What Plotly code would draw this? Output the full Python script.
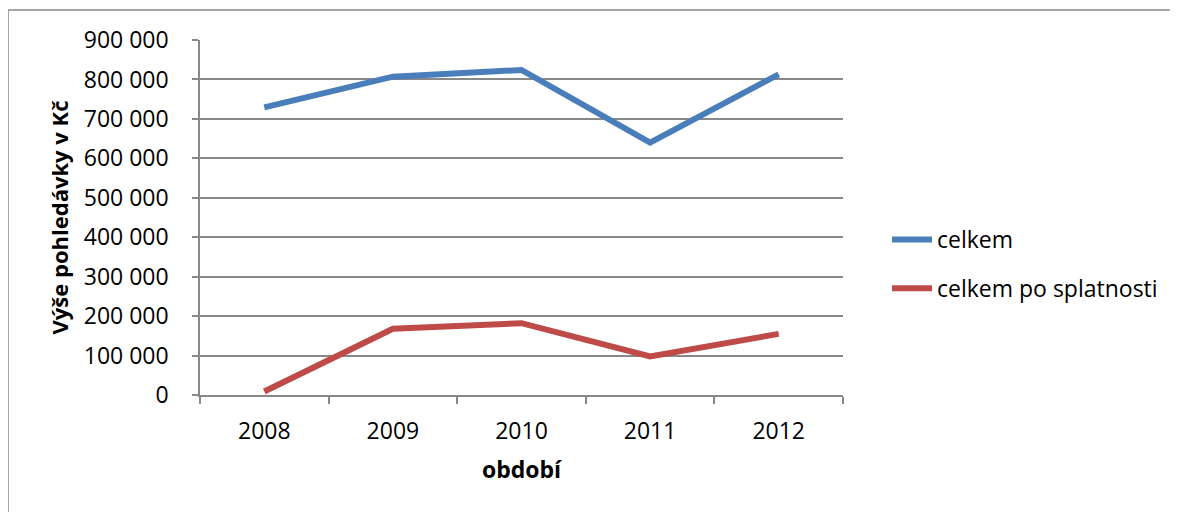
import plotly.graph_objects as go

years = ["2008", "2009", "2010", "2011", "2012"]
celkem = [729000, 807000, 824000, 640000, 813000]
po_splatnosti = [9000, 168000, 182000, 98000, 155000]
y_ticks = [0, 100000, 200000, 300000, 400000, 500000, 600000, 700000, 800000, 900000]

FONT = "Open Sans"
GRID = "#888888"
OFF = 8  # page body margin

fig = go.Figure()
fig.add_trace(go.Scatter(x=years, y=celkem, name="celkem", mode="lines",
                         line=dict(color="#4A7EBB", width=6), legendgroup="a"))
fig.add_trace(go.Scatter(x=years, y=po_splatnosti, name="celkem po splatnosti", mode="lines",
                         line=dict(color="#BE4B48", width=6), legendgroup="b"))

W, H = 1178 - OFF, 512 - OFF
L, T = 200 - OFF, 40 - OFF
R = W - (843 - OFF)
B = H - (395 - OFF)
pw, ph = W - L - R, H - T - B

def px_x(x):
    return (x - 200) / pw

def px_y(y):
    return (395 - y) / ph

fig.update_layout(
    width=W, height=H,
    margin=dict(l=L, r=R, t=T, b=B),
    paper_bgcolor="white", plot_bgcolor="white",
    separators=", ",
    font=dict(family=FONT, size=23, color="black"),
    showlegend=True,
    legend=dict(x=px_x(887), y=px_y(264), xanchor="left", yanchor="middle",
                traceorder="grouped", tracegroupgap=16, font=dict(size=23),
                itemwidth=40, bgcolor="rgba(0,0,0,0)"),
    xaxis=dict(type="category", range=[-0.5, 4.5], showgrid=False,
               showline=True, linecolor=GRID, linewidth=1.5,
               ticks="outside", tickson="boundaries", ticklen=7, tickcolor=GRID, tickwidth=1.5,
               ticklabelstandoff=15,
               title=dict(text="<b>období</b>", standoff=17, font=dict(size=23)),
               automargin=False, fixedrange=True),
    yaxis=dict(range=[0, 900000], tickvals=y_ticks, tickformat=",d",
               showgrid=True, gridcolor=GRID, gridwidth=1.5,
               showline=True, linecolor=GRID, linewidth=1.5,
               ticks="outside", ticklen=6, tickcolor=GRID, tickwidth=1.5,
               ticklabelstandoff=19, zeroline=False,
               title=dict(text="<b>Výše pohledávky v Kč</b>", standoff=9, font=dict(size=22)),
               automargin=False, fixedrange=True),
)

# outer chart-area border (extends past the right and bottom of the picture)
fig.add_shape(type="rect", xref="paper", yref="paper",
              x0=px_x(8), x1=px_x(1200),
              y0=px_y(540), y1=px_y(10),
              line=dict(color=GRID, width=1.5), fillcolor="rgba(0,0,0,0)", layer="below")

fig.write_html("out.html")
